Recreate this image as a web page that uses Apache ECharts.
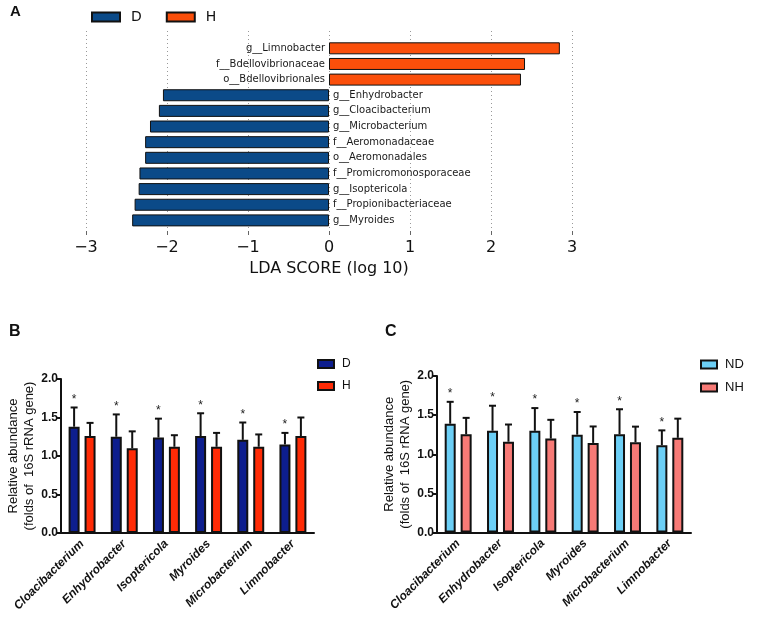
<!DOCTYPE html>
<html><head><meta charset="utf-8">
<script src="https://cdn.jsdelivr.net/npm/echarts@6/dist/echarts.min.js"></script>
<style>html,body{margin:0;padding:0;background:#fff}#c{width:768px;height:629px}</style>
</head><body><div id="c"></div>
<script>
// ---- Panel A: LDA scores ----
const ldaTaxa = ['g__Limnobacter','f__Bdellovibrionaceae','o__Bdellovibrionales','g__Enhydrobacter','g__Cloacibacterium','g__Microbacterium','f__Aeromonadaceae','o__Aeromonadales','f__Promicromonosporaceae','g__Isoptericola','f__Propionibacteriaceae','g__Myroides'];
const ldaScore = [2.85, 2.42, 2.37, -2.05, -2.10, -2.21, -2.27, -2.27, -2.34, -2.35, -2.40, -2.43];
const ldaGroup = ['H','H','H','D','D','D','D','D','D','D','D','D'];
const ldaTicks = [-3, -2, -1, 0, 1, 2, 3];

// ---- Panels B and C: relative abundance ----
const genera = ['Cloacibacterium','Enhydrobacter','Isoptericola','Myroides','Microbacterium','Limnobacter'];
const bD    = [1.38, 1.25, 1.24, 1.26, 1.21, 1.15];
const bDsd  = [0.25, 0.29, 0.245, 0.295, 0.225, 0.15];
const bH    = [1.26, 1.10, 1.12, 1.12, 1.12, 1.26];
const bHsd  = [0.17, 0.22, 0.15, 0.18, 0.16, 0.24];
const cND   = [1.39, 1.30, 1.30, 1.25, 1.255, 1.115];
const cNDsd = [0.28, 0.32, 0.29, 0.29, 0.32, 0.19];
const cNH   = [1.255, 1.16, 1.20, 1.145, 1.153, 1.21];
const cNHsd = [0.21, 0.22, 0.24, 0.21, 0.20, 0.245];
const sigB = ['*','*','*','*','*','*'];
const sigC = ['*','*','*','*','*','*'];
const abundTicks = [0, 0.5, 1.0, 1.5, 2.0];

const colA = {D:'#0b4a88', H:'#fb4f0b'};
const colB = {D:'#0d1e8e', H:'#ff2b06'};
const colC = {ND:'#6ccff6', NH:'#f77a76'};

const FA = 'DejaVu Sans';
const FB = 'Liberation Sans, Arial, sans-serif';
const BW = 11, GAP = 0.45;

function errSeries(means, sds, stars, xi, yi, side) {
  return {
    type: 'custom', xAxisIndex: xi, yAxisIndex: yi, z: 5, silent: true,
    data: means.map((m, i) => [i, m, m + sds[i]]),
    renderItem(params, api) {
      const i = api.value(0);
      const off = side * (BW + BW * GAP) / 2;
      const p0 = api.coord([i, api.value(1)]);
      const p1 = api.coord([i, api.value(2)]);
      const x = p0[0] + off;
      const ch = [
        {type:'line', shape:{x1:x, y1:p0[1], x2:x, y2:p1[1]}, style:{stroke:'#111', lineWidth:2}},
        {type:'line', shape:{x1:x-3.5, y1:p1[1], x2:x+3.5, y2:p1[1]}, style:{stroke:'#111', lineWidth:2}}
      ];
      const s = stars ? stars[params.dataIndex] : '';
      if (s) ch.push({type:'text', style:{text:s, x:x, y:p1[1]-2, align:'center', verticalAlign:'bottom', font:'12px ' + FB, fill:'#222'}});
      return {type:'group', children: ch};
    }
  };
}

function barSeries(name, vals, color, xi, yi) {
  return {
    name, type:'bar', xAxisIndex:xi, yAxisIndex:yi, data: vals, barWidth: BW, barGap: (GAP*100)+'%',
    itemStyle:{color, borderColor:'#111', borderWidth:2}
  };
}

function catAxis(gi) {
  return {
    type:'category', gridIndex: gi, data: genera,
    axisLine:{lineStyle:{color:'#111', width:2}},
    axisTick:{alignWithLabel:true, length:7, lineStyle:{color:'#111', width:2}},
    axisLabel:{rotate:45, interval:0, margin:9, fontFamily:FB, fontSize:12, fontWeight:'bold', fontStyle:'italic', color:'#111'}
  };
}
function valAxis(gi) {
  return {
    type:'value', gridIndex: gi, min:0, max:2, interval:0.5,
    name:'Relative abundance\n(folds of  16S rRNA gene)', nameLocation:'middle', nameGap:24,
    nameTextStyle:{fontFamily:FB, fontSize:13, color:'#111', lineHeight:16},
    axisLine:{show:true, lineStyle:{color:'#111', width:2}},
    axisTick:{show:true, length:5, lineStyle:{color:'#111', width:2}},
    splitLine:{show:false},
    axisLabel:{margin:3, fontFamily:FB, fontSize:12, fontWeight:'bold', color:'#111', formatter: v => v.toFixed(1)}
  };
}

const chart = echarts.init(document.getElementById('c'), null, {renderer:'canvas'});
const minusFmt = v => (v < 0 ? '\u2212' + Math.abs(v) : String(v));

chart.setOption({
  animation: false,
  backgroundColor: '#fff',
  title: [
    {text:'A', left:10, top:4, padding:0, textStyle:{fontFamily:FB, fontSize:15, fontWeight:'bold', color:'#111'}},
    {text:'B', left:9, top:324, padding:0, textStyle:{fontFamily:FB, fontSize:16, fontWeight:'bold', color:'#111'}},
    {text:'C', left:385, top:324, padding:0, textStyle:{fontFamily:FB, fontSize:16, fontWeight:'bold', color:'#111'}}
  ],
  legend: [
    {data:['D','H'], left:91, top:10, padding:0, itemWidth:28, itemHeight:9, itemGap:24, icon:'rect',
     textStyle:{fontFamily:FA, fontSize:14, color:'#111', padding:[0,0,0,6]}},
    {data:['D ','H '], left:317, top:358, padding:0, orient:'vertical', itemWidth:16, itemHeight:8, itemGap:10, icon:'rect',
     textStyle:{fontFamily:FB, fontSize:12, color:'#111', padding:[0,0,0,3]}},
    {data:['ND','NH'], left:700, top:358, padding:0, orient:'vertical', itemWidth:16, itemHeight:8, itemGap:10, icon:'rect',
     textStyle:{fontFamily:FB, fontSize:13, color:'#111', padding:[0,0,0,3]}}
  ],
  grid: [
    {left:86, right:196, top:31, height:200},
    {left:86, right:196, top:40.5, height:187.7},
    {left:61, right:454, top:379, bottom:96},
    {left:437, right:77, top:376, bottom:96.5}
  ],
  xAxis: [
    {type:'value', gridIndex:0, min:-3, max:3, interval:1,
     axisLine:{show:false}, axisTick:{show:true, length:4, lineStyle:{color:'#666'}},
     splitLine:{show:true, lineStyle:{color:'#999', type:[1,3], width:1}},
     axisLabel:{margin:9, fontFamily:FA, fontSize:16, color:'#111', formatter:minusFmt},
     name:'LDA SCORE (log 10)', nameLocation:'middle', nameGap:30,
     nameTextStyle:{fontFamily:FA, fontSize:16, color:'#111'}},
    {type:'value', gridIndex:1, min:-3, max:3, show:false},
    catAxis(2),
    catAxis(3)
  ],
  yAxis: [
    {type:'value', gridIndex:0, show:false},
    {type:'category', gridIndex:1, inverse:true, data:ldaTaxa, show:false},
    valAxis(2),
    valAxis(3)
  ],
  series: [
    {name:'D', type:'bar', stack:'lda', xAxisIndex:1, yAxisIndex:1, barWidth:12,
     data: ldaScore.map((v,i) => ldaGroup[i]==='D' ? v : null),
     itemStyle:{color:colA.D, borderColor:'#111', borderWidth:1}},
    {name:'H', type:'bar', stack:'lda', xAxisIndex:1, yAxisIndex:1, barWidth:12,
     data: ldaScore.map((v,i) => ldaGroup[i]==='H' ? v : null),
     itemStyle:{color:colA.H, borderColor:'#111', borderWidth:1}},
    {type:'custom', xAxisIndex:1, yAxisIndex:1, silent:true, z:6,
     data: ldaScore.map((v,i) => [v, i]),
     renderItem(params, api) {
       const v = api.value(0);
       const p = api.coord([0, params.dataIndex]);
       return {type:'text', style:{text: ldaTaxa[params.dataIndex], x: p[0] + (v < 0 ? 4 : -4), y: p[1],
         align: v < 0 ? 'left' : 'right', verticalAlign:'middle', font:'10px ' + FA, fill:'#1a1a1a'}};
     }},
    barSeries('D ', bD, colB.D, 2, 2),
    barSeries('H ', bH, colB.H, 2, 2),
    errSeries(bD, bDsd, sigB, 2, 2, -1),
    errSeries(bH, bHsd, null, 2, 2, 1),
    barSeries('ND', cND, colC.ND, 3, 3),
    barSeries('NH', cNH, colC.NH, 3, 3),
    errSeries(cND, cNDsd, sigC, 3, 3, -1),
    errSeries(cNH, cNHsd, null, 3, 3, 1)
  ]
});
</script></body></html>
